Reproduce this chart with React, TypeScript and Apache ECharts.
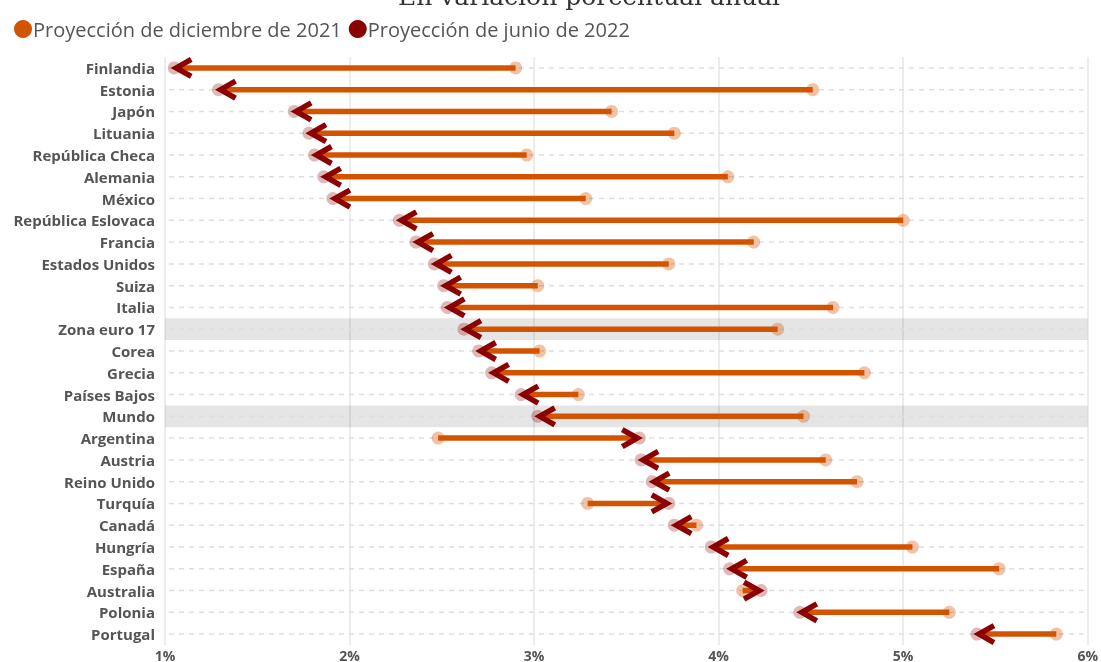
import React, { useEffect, useRef } from "react";
import * as echarts from "echarts";

const categories = [
  "Finlandia", "Estonia", "Japón", "Lituania", "República Checa", "Alemania", "México",
  "República Eslovaca", "Francia", "Estados Unidos", "Suiza", "Italia", "Zona euro 17",
  "Corea", "Grecia", "Países Bajos", "Mundo", "Argentina", "Austria", "Reino Unido",
  "Turquía", "Canadá", "Hungría", "España", "Australia", "Polonia", "Portugal",
];
const dec2021 = [
  2.90, 4.51, 3.42, 3.76, 2.96, 4.05, 3.28, 5.00, 4.19, 3.73, 3.02, 4.62, 4.32, 3.03,
  4.79, 3.24, 4.46, 2.48, 4.58, 4.75, 3.29, 3.88, 5.05, 5.52, 4.13, 5.25, 5.83,
];
const jun2022 = [
  1.05, 1.29, 1.70, 1.78, 1.81, 1.86, 1.91, 2.27, 2.36, 2.46, 2.51, 2.53, 2.62, 2.70,
  2.77, 2.93, 3.02, 3.57, 3.58, 3.64, 3.73, 3.76, 3.96, 4.06, 4.23, 4.44, 5.40,
];
const highlighted = ["Zona euro 17", "Mundo"];
const xMin = 1;
const xMax = 6;
const xInterval = 1;
const titleText = "En variación porcentual anual";
const decName = "Proyección de diciembre de 2021";
const junName = "Proyección de junio de 2022";

const ORANGE = "#d35400";
const DARKRED = "#8b0000";
const LABEL = "#555555";
const FONT = "'Open Sans', 'Noto Sans', sans-serif";

export default function App() {
  const ref = useRef<HTMLDivElement>(null);
  useEffect(() => {
    document.body.style.margin = "0";
    const chart = echarts.init(ref.current!, undefined, { renderer: "svg" });
    const pairData = categories.map((c, i) => [dec2021[i], jun2022[i], i]);
    const bgData = categories.map((c, i) => [i, highlighted.includes(c) ? 1 : 0]);

    const tipOf = (api: any, i: number, d: number, j: number) => {
      const dx = api.coord([d, i])[0];
      const p = api.coord([j, i]);
      const dir = p[0] < dx ? -1 : 1;
      return { dx, jx: p[0], y: p[1], dir, tip: p[0] - dir * 2 };
    };

    chart.setOption({
      animation: false,
      textStyle: { fontFamily: FONT },
      graphic: [
        {
          type: "text",
          x: 589,
          y: 9,
          style: {
            text: titleText,
            fill: "#333",
            font: "25px 'DejaVu Serif', serif",
            align: "center",
            verticalAlign: "bottom",
          },
        },
      ],
      legend: {
        left: 9,
        top: 14,
        itemWidth: 18,
        itemHeight: 18,
        itemGap: 7,
        icon: "circle",
        textStyle: {
          color: LABEL,
          fontSize: 20,
          fontFamily: FONT,
          padding: [0, 0, 0, -4],
        },
        data: [
          { name: decName, itemStyle: { color: ORANGE, opacity: 1 } },
          { name: junName, itemStyle: { color: DARKRED, opacity: 1 } },
        ],
      },
      grid: { left: 165, right: 13, top: 57, bottom: 17, containLabel: false },
      xAxis: {
        type: "value",
        min: xMin,
        max: xMax,
        interval: xInterval,
        axisLine: { show: false },
        axisTick: { show: false },
        axisLabel: {
          formatter: "{value}%",
          color: LABEL,
          fontWeight: "bold",
          fontSize: 14,
          margin: 3,
          fontFamily: FONT,
        },
        splitLine: { show: true, lineStyle: { color: "#e6e6e6", width: 1.5 } },
      },
      yAxis: {
        type: "category",
        data: categories,
        inverse: true,
        axisLine: { show: false },
        axisTick: { show: false },
        splitLine: { show: false },
        axisLabel: {
          color: LABEL,
          fontWeight: "bold",
          fontSize: 15,
          margin: 10,
          fontFamily: FONT,
        },
      },
      series: [
        {
          type: "custom",
          name: "bg",
          z: 1,
          silent: true,
          encode: { y: 0 },
          data: bgData,
          renderItem: (params: any, api: any) => {
            const i = api.value(0);
            const hl = api.value(1);
            const cs = params.coordSys;
            const y = api.coord([xMin, i])[1];
            const h = api.size([0, 1])[1];
            const children: any[] = [];
            if (hl) {
              children.push({
                type: "rect",
                shape: { x: cs.x, y: y - h / 2, width: cs.width, height: h },
                style: { fill: "rgba(0,0,0,0.1)" },
              });
            }
            children.push({
              type: "line",
              shape: { x1: cs.x + 4, y1: y, x2: cs.x + cs.width - 4, y2: y },
              style: { stroke: "#dedede", lineWidth: 1.5, lineDash: [5, 5] },
            });
            return { type: "group", children };
          },
        },
        {
          type: "scatter",
          name: decName,
          z: 3,
          symbolSize: 13,
          itemStyle: { color: ORANGE, opacity: 0.35 },
          data: categories.map((c, i) => [dec2021[i], i]),
        },
        {
          type: "scatter",
          name: junName,
          z: 3,
          symbolSize: 13,
          itemStyle: { color: DARKRED, opacity: 0.28 },
          data: categories.map((c, i) => [jun2022[i], i]),
        },
        {
          type: "custom",
          name: "lines",
          z: 4,
          silent: true,
          encode: { x: [0, 1], y: 2 },
          data: pairData,
          renderItem: (params: any, api: any) => {
            const t = tipOf(api, api.value(2), api.value(0), api.value(1));
            return {
              type: "line",
              shape: { x1: t.dx, y1: t.y, x2: t.tip, y2: t.y },
              style: { stroke: ORANGE, lineWidth: 5.5 },
            };
          },
        },
        {
          type: "custom",
          name: "arrows",
          z: 5,
          silent: true,
          encode: { x: [0, 1], y: 2 },
          data: pairData,
          renderItem: (params: any, api: any) => {
            const t = tipOf(api, api.value(2), api.value(0), api.value(1));
            const ax = t.tip - t.dir * 15;
            return {
              type: "polyline",
              shape: { points: [[ax, t.y - 8.5], [t.tip, t.y], [ax, t.y + 8.5]] },
              style: { stroke: DARKRED, lineWidth: 5.5, fill: "none", lineJoin: "miter" },
            };
          },
        },
      ],
    });
    return () => chart.dispose();
  }, []);
  return (
    <div
      ref={ref}
      style={{ position: "fixed", left: 0, top: 0, width: 1101, height: 662 }}
    />
  );
}
